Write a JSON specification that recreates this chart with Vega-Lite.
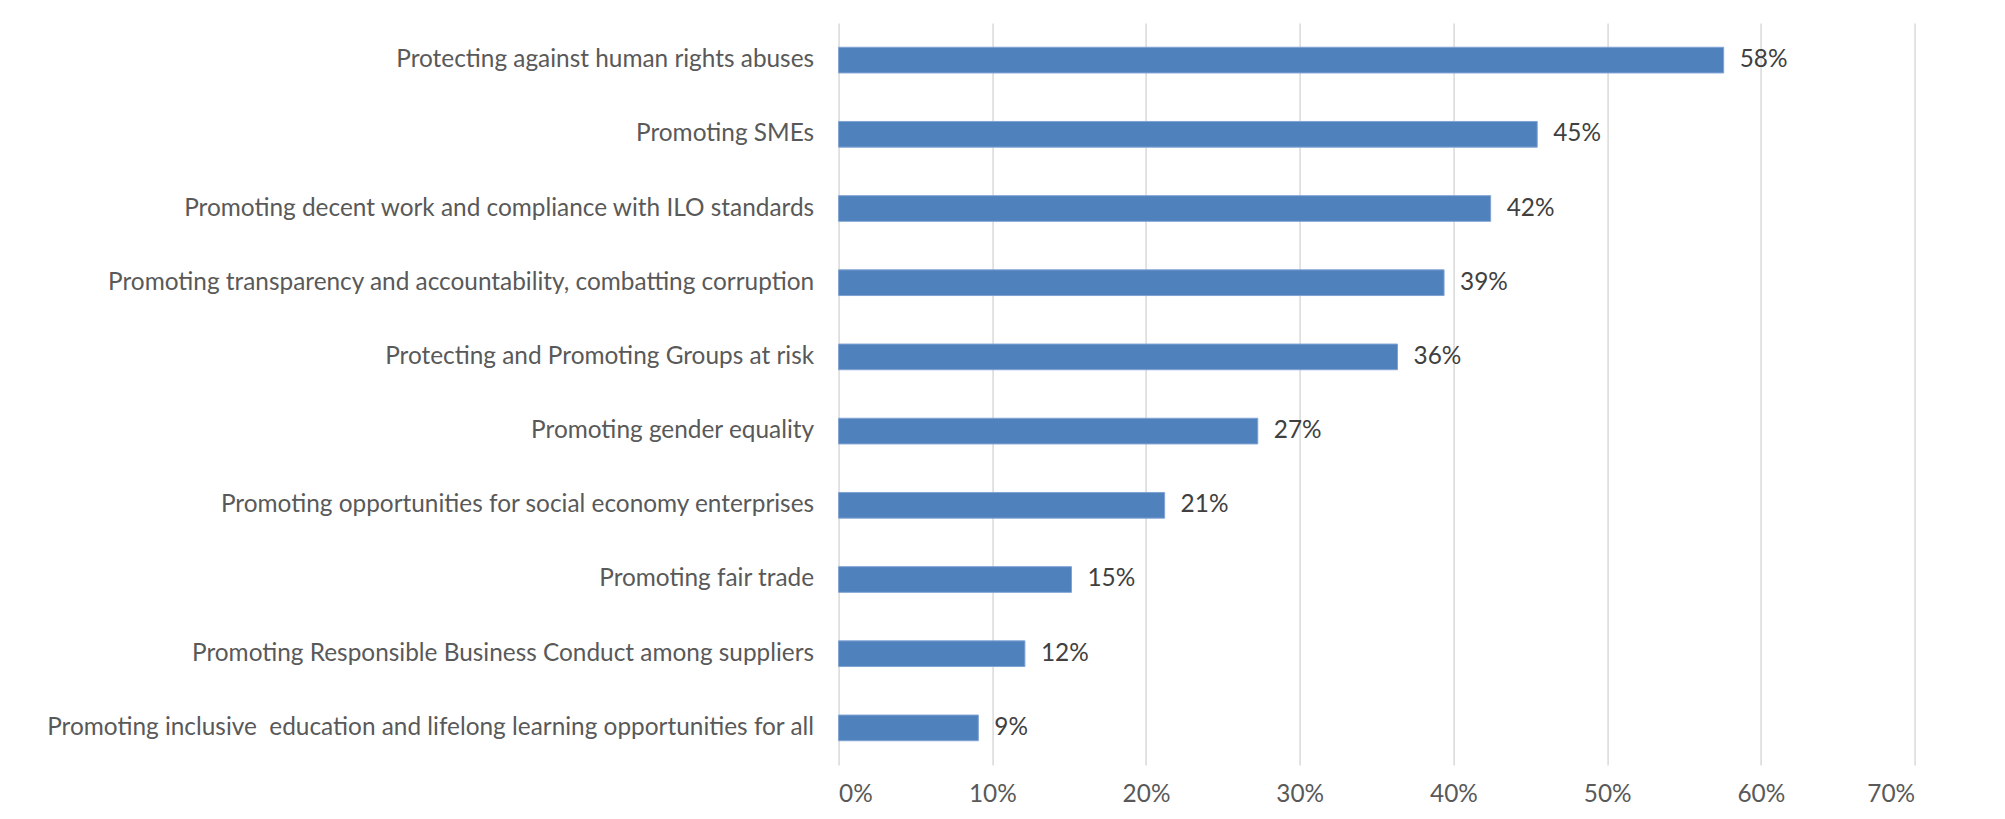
{
  "$schema": "https://vega.github.io/schema/vega-lite/v6.json",
  "autosize": "none",
  "width": 1076,
  "height": 742,
  "padding": {"left": 838.6, "top": 23, "right": 90, "bottom": 54},
  "background": "white",
  "data": {
    "values": [
      {"category": "Protecting against human rights abuses", "value": 0.5758},
      {"category": "Promoting SMEs", "value": 0.4545},
      {"category": "Promoting decent work and compliance with ILO standards", "value": 0.4242},
      {"category": "Promoting transparency and accountability, combatting corruption", "value": 0.3939},
      {"category": "Protecting and Promoting Groups at risk", "value": 0.3636},
      {"category": "Promoting gender equality", "value": 0.2727},
      {"category": "Promoting opportunities for social economy enterprises", "value": 0.2121},
      {"category": "Promoting fair trade", "value": 0.1515},
      {"category": "Promoting Responsible Business Conduct among suppliers", "value": 0.1212},
      {"category": "Promoting inclusive\u00a0 education and lifelong learning opportunities for all", "value": 0.0909}
    ]
  },
  "config": {
    "view": {"stroke": null},
    "font": "Lato",
    "axis": {"labelFont": "Lato", "labelColor": "#595959", "labelFontSize": 24.4}
  },
  "encoding": {
    "y": {
      "field": "category",
      "type": "nominal",
      "sort": null,
      "scale": {"paddingInner": 0.654, "paddingOuter": 0.327},
      "axis": {"title": null, "ticks": false, "domain": false, "labelPadding": 25, "labelLimit": 0, "grid": false}
    },
    "x": {
      "field": "value",
      "type": "quantitative",
      "scale": {"domain": [0, 0.7], "nice": false},
      "axis": {
        "title": null,
        "format": ".0%",
        "values": [0, 0.1, 0.2, 0.3, 0.4, 0.5, 0.6, 0.7],
        "ticks": false,
        "domain": false,
        "grid": true,
        "gridColor": "#D9D9D9",
        "gridWidth": 1.5,
        "labelPadding": 18
      }
    }
  },
  "layer": [
    {
      "mark": {"type": "bar", "color": "#4F81BD", "stroke": "#7FA3D3", "strokeWidth": 1}
    },
    {
      "mark": {"type": "text", "align": "left", "baseline": "middle", "dx": 16, "fontSize": 24.4, "color": "#404040", "font": "Lato"},
      "encoding": {"text": {"field": "value", "type": "quantitative", "format": ".0%"}}
    }
  ]
}
